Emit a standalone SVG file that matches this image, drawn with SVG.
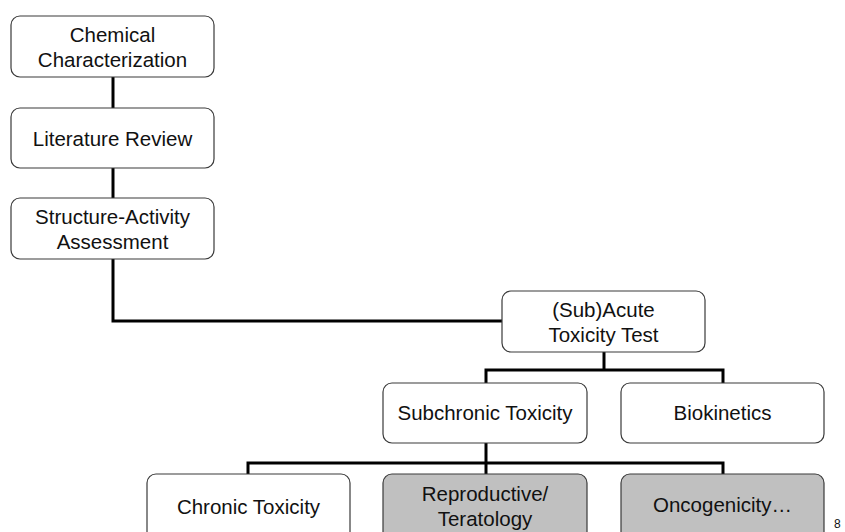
<svg xmlns="http://www.w3.org/2000/svg" width="845" height="532" viewBox="0 0 845 532">
  <style>
    .box { fill: #ffffff; stroke: #3a3a3a; stroke-width: 1.2; }
    .shaded { fill: #c0c0c0; stroke: #3a3a3a; stroke-width: 1.2; }
    .label { font-family: "Liberation Sans", Arial, sans-serif; font-size: 20.5px; fill: #111111; text-anchor: middle; }
    .wire { fill: none; stroke: #000000; stroke-width: 3; stroke-linejoin: miter; stroke-linecap: butt; }
    .page { font-family: "Liberation Sans", Arial, sans-serif; font-size: 12px; fill: #111111; }
  </style>
  <rect width="845" height="532" fill="#ffffff"/>

  <g id="connectors">
    <path class="wire" d="M113,77 V108"/>
    <path class="wire" d="M113,168 V198"/>
    <path class="wire" d="M113,259 V321 H502"/>
    <path class="wire" d="M604,352 V370"/>
    <path class="wire" d="M486,383 V370 H723 V383"/>
    <path class="wire" d="M486,443 V463"/>
    <path class="wire" d="M248,474 V463 H723 V474"/>
    <path class="wire" d="M486,463 V474"/>
  </g>

  <g id="chemical-characterization">
    <rect class="box" x="11" y="16" width="203" height="61" rx="9"/>
    <text class="label" x="112.5" y="42">Chemical</text>
    <text class="label" x="112.5" y="67">Characterization</text>
  </g>
  <g id="literature-review">
    <rect class="box" x="11" y="108" width="203" height="60" rx="9"/>
    <text class="label" x="112.5" y="146">Literature Review</text>
  </g>
  <g id="structure-activity">
    <rect class="box" x="11" y="198" width="203" height="61" rx="9"/>
    <text class="label" x="112.5" y="224">Structure-Activity</text>
    <text class="label" x="112.5" y="249">Assessment</text>
  </g>
  <g id="subacute-toxicity">
    <rect class="box" x="502" y="291" width="203" height="61" rx="9"/>
    <text class="label" x="603.5" y="317">(Sub)Acute</text>
    <text class="label" x="603.5" y="342">Toxicity Test</text>
  </g>
  <g id="subchronic-toxicity">
    <rect class="box" x="383" y="383" width="204" height="60" rx="9"/>
    <text class="label" x="485" y="420">Subchronic Toxicity</text>
  </g>
  <g id="biokinetics">
    <rect class="box" x="621" y="383" width="203" height="60" rx="9"/>
    <text class="label" x="722.5" y="420">Biokinetics</text>
  </g>
  <g id="chronic-toxicity">
    <rect class="box" x="147" y="474" width="203" height="70" rx="9"/>
    <text class="label" x="248.5" y="514">Chronic Toxicity</text>
  </g>
  <g id="reproductive-teratology">
    <rect class="shaded" x="383" y="474" width="204" height="70" rx="9"/>
    <text class="label" x="485" y="501">Reproductive/</text>
    <text class="label" x="485" y="526">Teratology</text>
  </g>
  <g id="oncogenicity">
    <rect class="shaded" x="621" y="474" width="203" height="70" rx="9"/>
    <text class="label" x="722.5" y="512">Oncogenicity…</text>
  </g>

  <text class="page" x="834" y="528">8</text>
</svg>
